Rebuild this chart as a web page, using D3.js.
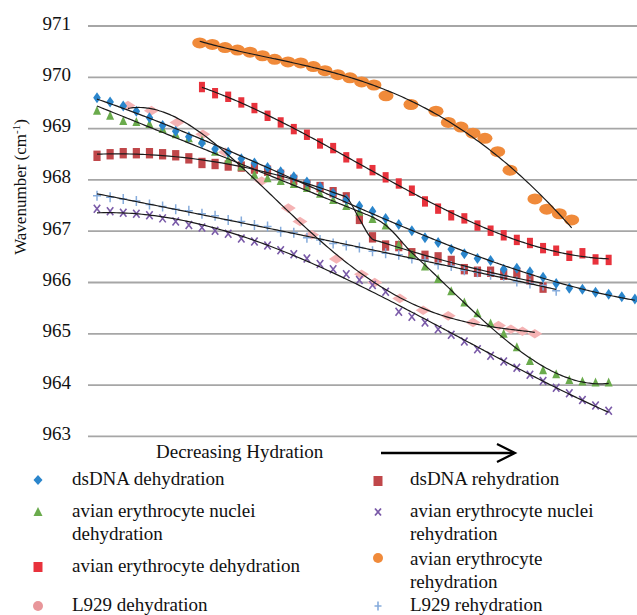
<!DOCTYPE html>
<html>
<head>
<meta charset="utf-8">
<script src="https://cdn.jsdelivr.net/npm/d3@7"></script>
<style>
  html, body { margin: 0; padding: 0; background: #fff; }
  svg { display: block; }
</style>
</head>
<body>
<svg id="chart" width="637" height="615" font-family="Liberation Serif"></svg>
<script>
// ---------------- data ----------------
const yTicks = [963, 964, 965, 966, 967, 968, 969, 970, 971];

const dsDNADehydration = [969.60, 969.52, 969.44, 969.34, 969.21, 969.06, 968.95, 968.84, 968.72, 968.60,
  968.54, 968.41, 968.33, 968.24, 968.16, 968.06, 967.96, 967.86, 967.74, 967.62,
  967.49, 967.39, 967.25, 967.13, 967.01, 966.87, 966.78, 966.65, 966.56, 966.47,
  966.43, 966.26, 966.28, 966.21, 966.10, 965.98, 965.89, 965.87, 965.81, 965.77,
  965.72, 965.68];
const dsDNADehydrationStart = 0;

const dsDNARehydration = [968.47, 968.50, 968.52, 968.52, 968.52, 968.50, 968.48, 968.42, 968.33, 968.31,
  968.28, 968.26, 968.22, 968.18, 968.10, 968.00, 967.90, 967.86, 967.76, 967.66,
  967.24, 966.88, 966.72, 966.71, 966.57, 966.52, 966.49, 966.42, 966.26, 966.21,
  966.21, 966.15, 966.19, 966.06, 965.90];
const dsDNARehydrationStart = 0;

const nucleiDehydration = [969.35, 969.25, 969.15, 969.13, 969.09, 968.99, 968.89, 968.81, 968.77, 968.55,
  968.40, 968.26, 968.10, 968.03, 967.98, 967.92, 967.84, 967.73, 967.61, 967.49,
  967.38, 967.24, 967.11, 966.73, 966.55, 966.31, 966.07, 965.83, 965.61, 965.40,
  965.20, 965.00, 964.74, 964.47, 964.29, 964.21, 964.10, 964.07, 964.05, 964.05];
const nucleiDehydrationStart = 0;

const nucleiRehydration = [967.44, 967.39, 967.36, 967.34, 967.31, 967.25, 967.19, 967.12, 967.07, 967.01,
  966.95, 966.86, 966.80, 966.72, 966.63, 966.55, 966.47, 966.36, 966.26, 966.16,
  966.05, 965.95, 965.82, 965.43, 965.33, 965.22, 965.09, 964.98, 964.85, 964.70,
  964.57, 964.46, 964.34, 964.20, 964.08, 963.95, 963.84, 963.71, 963.60, 963.50];
const nucleiRehydrationStart = 0;

const erythDehydration = [969.81, 969.69, 969.62, 969.51, 969.40, 969.25, 969.12, 968.99, 968.88, 968.71,
  968.62, 968.44, 968.32, 968.19, 968.05, 967.93, 967.79, 967.58, 967.44, 967.31,
  967.25, 967.11, 967.01, 966.92, 966.83, 966.77, 966.67, 966.62, 966.52, 966.57,
  966.45, 966.44];
const erythDehydrationStart = 8;

const erythRehydrationX = [7.83, 8.79, 9.76, 10.71, 11.66, 12.61, 13.54, 14.56, 15.53, 16.49,
  17.38, 18.35, 19.28, 20.17, 21.11, 22.03, 23.93, 25.84, 26.78, 27.74,
  28.66, 29.57, 30.54, 31.48, 33.38, 34.28, 35.24, 36.18];
const erythRehydration = [970.67, 970.64, 970.58, 970.53, 970.49, 970.42, 970.35, 970.30, 970.28, 970.21,
  970.13, 970.05, 969.99, 969.91, 969.85, 969.64, 969.47, 969.34, 969.12, 969.03,
  968.91, 968.81, 968.55, 968.19, 967.63, 967.43, 967.34, 967.22];

const l929DehydrationX = [2.36, 4.15, 6.10, 8.06, 9.79, 12.55, 14.58, 15.47, 16.36, 18.25,
  20.16, 21.17, 23.08, 24.86, 26.77, 28.66, 30.60, 31.55, 32.43, 33.37];
const l929Dehydration = [969.45, 969.35, 969.12, 968.89, 968.54, 967.98, 967.45, 967.19, 966.93, 966.46,
  966.16, 966.00, 965.69, 965.46, 965.35, 965.22, 965.16, 965.09, 965.05, 965.00];

const l929Rehydration = [967.69, 967.66, 967.63, 967.59, 967.52, 967.48, 967.43, 967.40, 967.34, 967.30,
  967.22, 967.19, 967.12, 967.09, 966.99, 966.97, 966.87, 966.83, 966.76, 966.72,
  966.68, 966.61, 966.57, 966.54, 966.47, 966.44, 966.35, 966.32, 966.24, 966.20,
  966.15, 966.13, 966.02, 965.98, 965.94, 965.84];
const l929RehydrationStart = 0;

const legendLabels = [
  ["dsDNA dehydration"],
  ["dsDNA rehydration"],
  ["avian erythrocyte nuclei", "dehydration"],
  ["avian erythrocyte nuclei", "rehydration"],
  ["avian erythrocyte dehydration"],
  ["avian erythrocyte", "rehydration"],
  ["L929 dehydration"],
  ["L929 rehydration"]
];
const xAxisTitle = "Decreasing Hydration";

// ---------------- helpers ----------------
const FONT = "Liberation Serif";
function serifText(sel, size) {
  return sel.attr("font-family", FONT).style("font-family", `'${FONT}'`)
    .attr("font-size", size).style("font-size", size + "px").attr("fill", "#111");
}
function indexed(vals, start) { return vals.map((v, i) => ({ x: start + i, y: v })); }
function paired(xs, vals) { return vals.map((v, i) => ({ x: xs[i], y: v })); }

function polyfit(pts, deg) {
  const xs = pts.map(p => p.x);
  const mx = d3.mean(xs);
  const sx = (d3.max(xs) - d3.min(xs)) / 2 || 1;
  const n = deg + 1;
  const A = Array.from({ length: n }, () => new Array(n + 1).fill(0));
  pts.forEach(p => {
    const t = (p.x - mx) / sx;
    const pw = [];
    for (let k = 0; k < 2 * n; k++) pw.push(Math.pow(t, k));
    for (let r = 0; r < n; r++) {
      for (let c = 0; c < n; c++) A[r][c] += pw[r + c];
      A[r][n] += pw[r] * p.y;
    }
  });
  for (let c = 0; c < n; c++) {
    let piv = c;
    for (let r = c + 1; r < n; r++) if (Math.abs(A[r][c]) > Math.abs(A[piv][c])) piv = r;
    [A[c], A[piv]] = [A[piv], A[c]];
    for (let r = 0; r < n; r++) {
      if (r === c) continue;
      const f = A[r][c] / A[c][c];
      for (let k = c; k <= n; k++) A[r][k] -= f * A[c][k];
    }
  }
  const coef = A.map((row, i) => row[n] / row[i]);
  return x => {
    const t = (x - mx) / sx;
    let s = 0;
    for (let k = n - 1; k >= 0; k--) s = s * t + coef[k];
    return s;
  };
}
function blend(fA, fB, a, b) {
  return x => {
    const t = Math.max(0, Math.min(1, (x - a) / (b - a)));
    const w = t * t * (3 - 2 * t);
    return (1 - w) * fA(x) + w * fB(x);
  };
}
function sampleFit(f, x0, x1) {
  return d3.range(0, 161).map(i => { const x = x0 + (x1 - x0) * i / 160; return { x, y: f(x) }; });
}

// ---------------- layout ----------------
const svg = d3.select("#chart");
const plotLeft = 88, plotRight = 637;
const x = d3.scaleLinear().domain([0, 41]).range([97, 634.9]);
const y = d3.scaleLinear().domain([963, 971]).range([436.4, 26]);

// gridlines
svg.append("g").selectAll("line").data(yTicks).join("line")
  .attr("x1", plotLeft).attr("x2", plotRight)
  .attr("y1", d => y(d)).attr("y2", d => y(d))
  .attr("stroke", "#a6a6a6").attr("stroke-width", 1.8);

// y axis labels
const yAxis = d3.axisLeft(y).tickValues(yTicks).tickSize(0).tickPadding(0).tickFormat(d3.format("d"));
const yg = svg.append("g").attr("transform", "translate(71,-3)").call(yAxis);
yg.attr("font-family", FONT).attr("font-size", 19);
yg.select(".domain").remove();
serifText(yg.selectAll("text"), 19);

// y axis title
const yt = serifText(svg.append("text"), 17).attr("transform", "translate(26,187) rotate(-90)")
  .attr("text-anchor", "middle");
yt.append("tspan").text("Wavenumber (cm");
yt.append("tspan").attr("dy", -6).attr("font-size", 11).style("font-size", "11px").text("-1");
yt.append("tspan").attr("dy", 6).text(")");

// ---------------- series ----------------
const shapes = {
  diamond: "M0,-5.5L3.8,0L0,5.5L-3.8,0Z",
  triangle: "M0,-5L4,4L-4,4Z",
  rectTall: "M-3,-5.2H3V5.2H-3Z",
  rectDark: "M-3.6,-5.2H3.6V5.2H-3.6Z",
  pinkDiamond: "M0,-4.8L7.5,0L0,4.8L-7.5,0Z",
};
function drawMarkers(pts, kind, color) {
  const g = svg.append("g");
  const sel = g.selectAll("g").data(pts).join("g")
    .attr("transform", d => `translate(${x(d.x)},${y(d.y)})`);
  if (kind === "ellipse") {
    sel.append("ellipse").attr("rx", 7.5).attr("ry", 5.5).attr("fill", color);
  } else if (kind === "x") {
    sel.append("path").attr("d", "M-3.2,-4L3.2,4M3.2,-4L-3.2,4").attr("stroke", color).attr("stroke-width", 1.6).attr("fill", "none");
  } else if (kind === "plus") {
    sel.append("path").attr("d", "M-4,0H4M0,-5V5").attr("stroke", color).attr("stroke-width", 1.5).attr("fill", "none");
  } else {
    sel.append("path").attr("d", shapes[kind]).attr("fill", color);
  }
}

const sBlue = indexed(dsDNADehydration, dsDNADehydrationStart);
const sDark = indexed(dsDNARehydration, dsDNARehydrationStart);
const sGreen = indexed(nucleiDehydration, nucleiDehydrationStart);
const sPurple = indexed(nucleiRehydration, nucleiRehydrationStart);
const sRed = indexed(erythDehydration, erythDehydrationStart);
const sOrange = paired(erythRehydrationX, erythRehydration);
const sPink = paired(l929DehydrationX, l929Dehydration);
const sLight = indexed(l929Rehydration, l929RehydrationStart);

const colors = {
  blue: "#2b86cc", dark: "#c0474a", green: "#6aab4c", purple: "#7a5aa8",
  red: "#e8323c", orange: "#f08a3a", pink: "#f5b3b4", light: "#86acdc"
};

drawMarkers(sPink, "pinkDiamond", colors.pink);
drawMarkers(sOrange, "ellipse", colors.orange);
drawMarkers(sRed, "rectTall", colors.red);
drawMarkers(sDark, "rectDark", colors.dark);
drawMarkers(sLight, "plus", colors.light);
drawMarkers(sPurple, "x", colors.purple);
drawMarkers(sGreen, "triangle", colors.green);
drawMarkers(sBlue, "diamond", colors.blue);

// ---------------- trend lines ----------------
const line = d3.line().x(d => x(d.x)).y(d => y(d.y)).curve(d3.curveMonotoneX);
function extent(pts) { return d3.extent(pts, d => d.x); }
const fits = [];
[[sBlue, 3], [sPurple, 3], [sRed, 3], [sOrange, 4], [sPink, 4], [sLight, 2]].forEach(([pts, deg]) => {
  const [a, b] = extent(pts);
  fits.push(sampleFit(polyfit(pts, deg), a, b));
});
{
  const fA = polyfit(sGreen.filter(d => d.x <= 22), 1);
  const fB = polyfit(sGreen.filter(d => d.x >= 21), 3);
  const [a, b] = extent(sGreen);
  fits.push(sampleFit(blend(fA, fB, 20.5, 24), a, b));
}
{
  const before = sDark.filter(d => d.x <= 19);
  const after = sDark.filter(d => d.x >= 21);
  const fA = polyfit(before, 2), fB = polyfit(after, 2);
  const pA = d3.range(0, 39).map(i => ({ x: i * 0.5, y: fA(i * 0.5) }));
  const mid = sDark.filter(d => d.x === 20);
  const pB = d3.range(0, 27).map(i => ({ x: 21 + i * 0.5, y: fB(21 + i * 0.5) }));
  fits.push(pA.concat(mid, pB));
}
svg.append("g").selectAll("path").data(fits).join("path")
  .attr("d", line).attr("fill", "none").attr("stroke", "#1a1a1a").attr("stroke-width", 1.2);

// ---------------- x title + arrow ----------------
serifText(svg.append("text"), 19).attr("x", 156).attr("y", 458).text(xAxisTitle);
svg.append("line").attr("x1", 381).attr("x2", 514).attr("y1", 453).attr("y2", 453)
  .attr("stroke", "#000").attr("stroke-width", 2.4);
svg.append("path").attr("d", "M497,444L515,453L497,462").attr("fill", "none")
  .attr("stroke", "#000").attr("stroke-width", 2.2);

// ---------------- legend ----------------
const legendItems = [
  { kind: "diamond", color: colors.blue, mx: 38, my: 480, tx: 72, ty: 479 },
  { kind: "rectDark", color: colors.dark, mx: 378, my: 481, tx: 410, ty: 479 },
  { kind: "triangle", color: colors.green, mx: 38, my: 512, tx: 72, ty: 511 },
  { kind: "x", color: colors.purple, mx: 378, my: 512, tx: 410, ty: 511 },
  { kind: "rect", color: colors.red, mx: 38, my: 567, tx: 72, ty: 566 },
  { kind: "circle", color: colors.orange, mx: 378, my: 558, tx: 410, ty: 559 },
  { kind: "circle", color: "#e8969a", mx: 38, my: 606, tx: 72, ty: 605 },
  { kind: "plus", color: colors.light, mx: 378, my: 606, tx: 410, ty: 605 }
];
const lg = svg.append("g");
legendItems.forEach((it, i) => {
  const g = lg.append("g").attr("transform", `translate(${it.mx},${it.my})`);
  if (it.kind === "diamond") g.append("path").attr("d", "M0,-5L4.5,0L0,5L-4.5,0Z").attr("fill", it.color);
  else if (it.kind === "rectDark" || it.kind === "rect") g.append("path").attr("d", "M-4.5,-5H4.5V5H-4.5Z").attr("fill", it.color);
  else if (it.kind === "triangle") g.append("path").attr("d", "M0,-5L4.5,4L-4.5,4Z").attr("fill", it.color);
  else if (it.kind === "x") g.append("path").attr("d", "M-3,-3.5L3,3.5M3,-3.5L-3,3.5").attr("stroke", it.color).attr("stroke-width", 1.8);
  else if (it.kind === "circle") g.append("circle").attr("r", 5).attr("fill", it.color);
  else if (it.kind === "plus") g.append("path").attr("d", "M-3.5,0H3.5M0,-4.5V4.5").attr("stroke", it.color).attr("stroke-width", 1.6);
  const t = serifText(lg.append("text"), 19).attr("x", it.tx).attr("y", it.ty);
  legendLabels[i].forEach((s, k) => t.append("tspan").attr("x", it.tx).attr("dy", k === 0 ? "0.33em" : 22.5).text(s));
});
</script>
</body>
</html>
